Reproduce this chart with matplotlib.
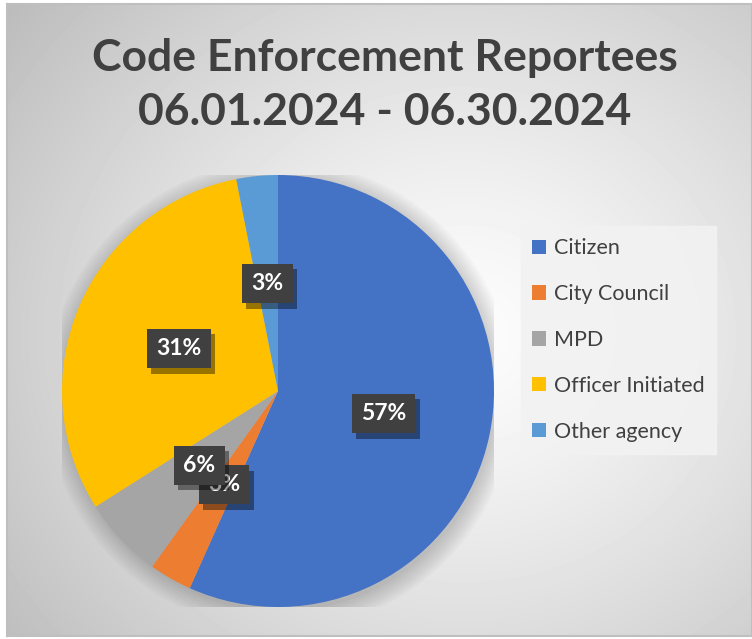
import matplotlib.pyplot as plt
import matplotlib.patheffects as pe
import numpy as np

plt.rcParams['font.family'] = ['Lato', 'DejaVu Sans']

categories = ["Citizen", "City Council", "MPD", "Officer Initiated", "Other agency"]
shares = [56.7, 3.2, 6.1, 30.9, 3.1]
colors = ["#4472c4", "#ed7d31", "#a5a5a5", "#ffc000", "#5b9bd5"]
title = "Code Enforcement Reportees\n06.01.2024 - 06.30.2024"

W, H = 752, 639
fig = plt.figure(figsize=(W / 100, H / 100), dpi=100)
fig.patch.set_facecolor("white")

# chart area with a radial grey gradient
bg = fig.add_axes([7 / W, 3 / H, 1 - 7 / W, (636 - 4) / H])
yy, xx = np.mgrid[0:632, 0:745]
d = np.hypot((xx - 455) / 520, (yy - 330) / 470)
shade = np.clip(0.99 - 0.22 * d ** 1.3, 0, 1)
bg.imshow(shade, cmap="gray", vmin=0, vmax=1, aspect="auto",
          extent=[0, 745, 632, 0])
bg.set_xticks([])
bg.set_yticks([])
for s in bg.spines.values():
    s.set_color("#bfbfbf")
    s.set_linewidth(1.5)

fig.text(385 / W, 1 - 85 / H, title, ha="center", va="center",
         fontsize=32, fontweight="bold", color="#404040", linespacing=1.45)

# pie
cx, cy, r = 278, 391, 216
ax = fig.add_axes([(cx - r) / W, (H - cy - r) / H, 2 * r / W, 2 * r / H])
ax.axis("off")

# soft shadow behind the pie
for k in range(8):
    ax.add_patch(plt.Circle((0.01, -0.02), 1.0 + 0.012 * k, color="black",
                            alpha=0.022, lw=0, zorder=0))

wedges, texts, autotexts = ax.pie(
    shares, colors=colors, startangle=90, counterclock=False,
    autopct=lambda p: f"{p:.0f}%", pctdistance=0.5, radius=1,
    wedgeprops=dict(linewidth=0), textprops=dict(color="white"))
ax.set_xlim(-1, 1)
ax.set_ylim(-1, 1)

for t in autotexts:
    t.set_fontsize(16.5)
    t.set_fontweight("bold")
    t.set_bbox(dict(boxstyle="square,pad=0.4", facecolor="#404040",
                    edgecolor="none", linewidth=0))
    t.get_bbox_patch().set_path_effects(
        [pe.withSimplePatchShadow(offset=(3, -4), alpha=0.4, shadow_rgbFace="black"),
         pe.Normal()])

leg = fig.legend(wedges, categories, loc="center",
                 bbox_to_anchor=(520 / W, 1 - 452 / H, 197 / W, 224 / H),
                 frameon=True, fancybox=False, fontsize=15.5,
                 labelspacing=1.2, handlelength=0.65, handleheight=0.65,
                 handletextpad=0.35, borderpad=0.55)
leg.get_frame().set_facecolor("#f2f2f2")
leg.get_frame().set_edgecolor("#f2f2f2")
leg.get_frame().set_alpha(0.9)
for t in leg.get_texts():
    t.set_color("#404040")

fig.savefig("out.png", dpi=100)
